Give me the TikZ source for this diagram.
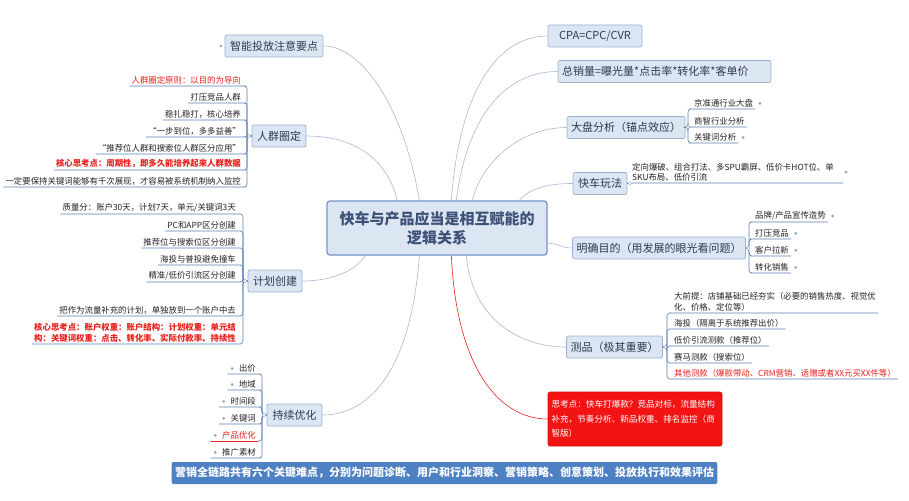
\documentclass[tikz,border=0pt]{standalone}
\usepackage{fontspec}
\setmainfont{Noto Sans CJK SC}
\usetikzlibrary{calc,positioning}
\definecolor{boxfill}{HTML}{DCE6F2}
\definecolor{boxdraw}{HTML}{9CB2D2}
\definecolor{ctrdraw}{HTML}{6F93C6}
\definecolor{txt}{HTML}{2E3A4E}
\definecolor{ctrtxt}{HTML}{3C5078}
\definecolor{leaftxt}{HTML}{222222}
\definecolor{conn}{HTML}{A7B9D3}
\definecolor{ulc}{HTML}{5B80B8}
\definecolor{redc}{HTML}{E8201C}
\definecolor{redbox}{HTML}{F21313}
\definecolor{banner}{HTML}{4E80C4}
\definecolor{dotc}{HTML}{98A4B6}
\begin{document}
\begin{tikzpicture}[x=1pt,y=-1pt,
  br/.style={draw=boxdraw, fill=boxfill, rounded corners=2pt, line width=0.7pt, minimum height=22pt, inner xsep=4pt, inner ysep=2pt, text=txt, font=\fontsize{11}{13}\selectfont},
  lf/.style={inner xsep=2pt, inner ysep=1.5pt, text=leaftxt, font=\fontsize{8.4}{10.5}\selectfont, align=left},
  lfL/.style={lf, anchor=south east},
  lfR/.style={lf, anchor=south west},
  rd/.style={text=redc},
  rdb/.style={text=redc, font=\fontsize{8.4}{10.5}\selectfont\bfseries},
  ul/.style={draw=ulc, line width=0.6pt, rounded corners=3pt},
  cn/.style={draw=conn, line width=0.6pt},
  dotm/.style={circle, fill=dotc, inner sep=0pt, minimum size=3pt},
  knob/.style={circle, draw=dotc, fill=white, inner sep=0pt, minimum size=3.5pt, line width=0.4pt}
]
\useasboundingbox (0,0) rectangle (909,500);

% centre
\node[draw=ctrdraw, fill=boxfill, line width=1.3pt, rounded corners=3pt, minimum width=220pt, minimum height=54pt, align=center, text=ctrtxt, font=\fontsize{15}{19}\selectfont\bfseries] (c) at (437,228) {快车与产品应当是相互赋能的\\逻辑关系};

% branches
\node[br, minimum width=98pt] (zn) at (274,46) {智能投放注意要点};
\node[br, minimum width=54pt] (rq) at (279,136) {人群圈定};
\node[br, minimum width=54pt] (jh) at (275,281) {计划创建};
\node[br, minimum width=55pt] (cx) at (294.5,415) {持续优化};
\node[br, minimum width=94pt] (cpa) at (595,36) {CPA=CPC/CVR};
\node[br, text width=205pt, align=left] (zxl) at (664.5,71.5) {总销量=曝光量*点击率*转化率*客单价};
\node[br, minimum width=118pt] (dp) at (626,127.5) {大盘分析（锚点效应）};
\node[br, minimum width=54pt] (kc) at (600,183.5) {快车玩法};
\node[br, minimum width=172pt] (mq) at (659,248) {明确目的（用发展的眼光看问题）};
\node[br, minimum width=95pt] (cp) at (614.5,347) {测品（极其重要）};
\node[draw=redbox!85!black, fill=redbox, rounded corners=2pt, line width=0.6pt, minimum width=174pt, minimum height=54pt, inner xsep=3pt, text width=167pt, align=left, text=white, font=\fontsize{8.6}{14.5}\selectfont] (rb) at (635,419) {思考点：快车打爆款？竞品对标，流量结构\\补充，节奏分析、新品权重、排名监控（商\\智版）};

\node[dotm, left=2pt of zn] (znd) {};

% banner
\node[fill=banner, rounded corners=2pt, text=white, minimum width=543pt, minimum height=22pt, font=\fontsize{11}{13}\selectfont\bfseries] (bn) at (444.5,473) {营销全链路共有六个关键难点，分别为问题诊断、用户和行业洞察、营销策略、创意策划、投放执行和效果评估};

% connectors from centre
\draw[cn] ($(c.north west)+(93,0)$) .. controls +(-15,-90) and +(40,0) .. (zn.east);
\draw[cn] ($(c.north west)+(71,0)$) .. controls +(-10,-40) and +(50,0) .. (rq.east);
\draw[cn] ($(c.south west)+(39,0)$) .. controls +(-10,15) and +(30,0) .. (jh.east);
\draw[cn] ($(c.south west)+(93,0)$) .. controls +(-8,110) and +(50,0) .. (cx.east);
\draw[cn] ($(c.north west)+(125,0)$) .. controls +(8,-110) and +(-50,0) .. (cpa.west);
\draw[cn] ($(c.north west)+(130,0)$) .. controls +(10,-80) and +(-55,0) .. (zxl.west);
\draw[cn] ($(c.north west)+(146,0)$) .. controls +(10,-40) and +(-45,0) .. (dp.west);
\draw[cn] ($(c.north west)+(193,0)$) .. controls +(10,-12) and +(-25,0) .. (kc.west);
\draw[cn] ($(c.north east)+(0,43)$) .. controls +(12,0) and +(-12,0) .. (mq.west);
\draw[cn] ($(c.south west)+(140,0)$) .. controls +(5,60) and +(-50,0) .. (cp.west);
\draw[draw=redc, line width=0.6pt] ($(c.south west)+(125,0)$) .. controls +(5,110) and +(-50,0) .. (rb.west);

% 人群圈定 leaves
\node[lfL, rd] (a1) at (243,86) {人群圈定原则：以目的为导向};
\node[lfL] (a2) at (243,103) {打压竞品人群};
\node[lfL] (a3) at (243,120) {稳扎稳打，核心培养};
\node[lfL] (a4) at (243,137) {“一步到位，多多益善”};
\node[lfL] (a5) at (243,154) {“推荐位人群和搜索位人群区分应用”};
\node[lfL, rdb] (a6) at (243,170) {核心思考点：周期性，即多久能培养起来人群数据};
\node[lfL] (a7) at (243,187) {一定要保持关键词能够有千次展现，才容易被系统机制纳入监控};
\foreach \n in {a1,a2,a3,a4,a5,a6,a7}
  \draw[ul] (\n.south west) -- (\n.south east) -- ++(4,0) |- (rq.west);

% 计划创建 leaves
\node[lfL] (b1) at (238,214) {质量分：账户30天，计划7天，单元/关键词3天};
\node[lfL] (b2) at (238,231) {PC和APP区分创建};
\node[lfL] (b3) at (238,248) {推荐位与搜索位区分创建};
\node[lfL] (b4) at (238,265) {海投与普投避免撞车};
\node[lfL] (b5) at (238,282) {精准/低价引流区分创建};
\node[lfL] (b6) at (238,316) {把作为流量补充的计划，单独放到一个账户中去};
\node[lfL, rdb] (b7) at (238,344) {核心思考点：账户权重：账户结构：计划权重：单元结\\构：关键词权重：点击、转化率、实际付款率、持续性};
\foreach \n in {b1,b2,b3,b4,b5,b6,b7}
  \draw[ul] (\n.south west) -- (\n.south east) -- ++(5,0) |- (jh.west);

% 持续优化 leaves
\node[lfL] (d1) at (258,374) {出价};
\node[lfL] (d2) at (258,390) {地域};
\node[lfL] (d3) at (258,407) {时间段};
\node[lfL] (d4) at (258,424) {关键词};
\node[lfL, rd] (d5) at (258,441) {产品优化};
\node[lfL] (d6) at (258,458) {推广素材};
\foreach \n in {d1,d2,d3,d4,d5,d6}
  \node[dotm, left=3pt of \n] (\n d) {};
\foreach \n in {d1,d2,d3,d4,d6}
  \draw[ul] ($(\n d.west |- \n.south)+(-3,0)$) -- (\n.south east) -- ++(4,0) |- (cx.west);
\draw[draw=redc, line width=0.6pt] ($(d5d.west |- d5.south)+(-3,0)$) -- (d5.south east);
\draw[ul] (d5.south east) -- ++(4,0) |- (cx.west);

% 大盘分析 leaves
\node[lfR] (e1) at (692,109) {京准通行业大盘};
\node[lfR] (e2) at (692,127) {商智行业分析};
\node[lfR] (e3) at (692,143) {关键词分析};
\foreach \n in {e1,e2,e3}
  \draw[ul] (\n.south east) -- (\n.south west) -- ++(-4,0) |- (dp.east);
\node[dotm, right=3pt of e1] (e1d) {};
\node[dotm, right=3pt of e3] (e3d) {};

% 快车玩法 leaf
\node[lfR, text width=209pt] (f1) at (630,183) {定向爆破、组合打法、多SPU霸屏、低价卡HOT位、单\\SKU布局、低价引流};
\draw[ul] (f1.south east) -- (f1.south west) -- (kc.east);
\node[dotm, right=1pt of f1] (f1d) {};

% 明确目的 leaves
\node[lfR] (g1) at (753,222) {品牌/产品宣传造势};
\node[lfR] (g2) at (753,239) {打压竞品};
\node[lfR] (g3) at (753,256) {客户拉新};
\node[lfR] (g4) at (753,273) {转化销售};
\foreach \n in {g1,g2,g3,g4}{
  \draw[ul] (\n.south east) -- (\n.south west) -- ++(-4,0) |- (mq.east);
  \node[dotm, right=3pt of \n] (\n d) {};
}

% 测品 leaves
\node[lfR, text width=202pt] (h1) at (672,313) {大前提：店铺基础已经夯实（必要的销售热度、视觉优\\化、价格、定位等）};
\node[lfR] (h2) at (672,329) {海投（隔离于系统推荐出价）};
\node[lfR] (h3) at (672,346) {低价引流测款（推荐位）};
\node[lfR] (h4) at (672,363) {赛马测款（搜索位）};
\node[lfR, rd] (h5) at (672,379) {其他测款（爆款带动、CRM营销、适赠或者XX元买XX件等）};
\foreach \n in {h1,h2,h3,h4,h5}
  \draw[ul] (\n.south east) -- (\n.south west) -- ++(-5,0) |- (cp.east);

% knobs
\node[knob] (rqk) at ($(rq.west)+(-2.5,0)$) {};
\node[knob] (jhk) at ($(jh.west)+(-2.5,0)$) {};
\node[knob] (cxk) at ($(cx.west)+(-2.5,0)$) {};
\node[knob] (dpk) at ($(dp.east)+(2.5,0)$) {};
\node[knob] (kck) at ($(kc.east)+(2.5,0)$) {};
\node[knob] (mqk) at ($(mq.east)+(2.5,0)$) {};
\node[knob] (cpk) at ($(cp.east)+(2.5,0)$) {};
\end{tikzpicture}
\end{document}
